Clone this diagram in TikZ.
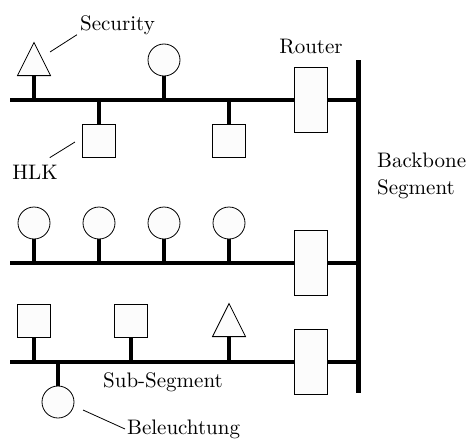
\documentclass[tikz,border=0pt]{standalone}
\usepackage{fontspec}
\setmainfont{lmroman10-regular.otf}
\usetikzlibrary{shapes.geometric}
\begin{document}
\begin{tikzpicture}[x=1pt,y=-1pt,
    bus/.style={line width=3.7pt},
    backbone/.style={line width=5pt},
    dev/.style={draw,fill=gray!2,line width=0.8pt,inner sep=0pt},
    sq/.style={dev,rectangle,minimum size=33pt},
    ci/.style={dev,circle,minimum size=32pt},
    tri/.style={dev,isosceles triangle,isosceles triangle stretches,shape border rotate=90,minimum width=33pt,minimum height=33pt,anchor=lower side},
    router/.style={dev,rectangle,minimum width=33pt,minimum height=65pt},
    lbl/.style={inner sep=0pt,font=\fontsize{21}{27}\selectfont},
    lead/.style={line width=0.8pt}]
    \useasboundingbox (0,0) rectangle (469,439);
    % backbone and the three sub-segments
    \coordinate (bbtop) at (358,60);
    \coordinate (bbbot) at (358,393);
    \draw[backbone] (bbtop) -- (bbbot);
    \foreach \n/\y in {1/100,2/263,3/362} {
        \coordinate (s\n) at (10,\y);
        \node[router] (r\n) at (310.5,\y) {};
        \draw[bus] (s\n) -- (r\n);
        \draw[bus] (r\n) -- (r\n -| bbtop);
    }
    % segment 1
    \node[tri] (sec) at (34,76) {};
    \draw[bus] (sec.lower side) -- (sec.lower side |- s1);
    \node[ci] (c1) at (164,60) {};
    \draw[bus] (c1.south) -- (c1 |- s1);
    \foreach \x [count=\i] in {99,229} {
        \node[sq] (h\i) at (\x,141) {};
        \draw[bus] (h\i.north) -- (h\i |- s1);
    }
    % segment 2
    \foreach \x [count=\i] in {34,99,164,229} {
        \node[ci] (l\i) at (\x,223) {};
        \draw[bus] (l\i.south) -- (l\i |- s2);
    }
    % segment 3
    \foreach \x [count=\i] in {34,131} {
        \node[sq] (q\i) at (\x,320.5) {};
        \draw[bus] (q\i.south) -- (q\i |- s3);
    }
    \node[tri] (t3) at (229,337) {};
    \draw[bus] (t3.lower side) -- (t3.lower side |- s3);
    \node[ci] (bl) at (58,402) {};
    \draw[bus] (bl.north) -- (bl |- s3);
    % labels
    \node[lbl] (seclbl) at (117.5,25) {Security};
    \coordinate (secend) at (50,52);
    \draw[lead] ([xshift=-3pt]seclbl.south west) -- (secend);
    \node[lbl] (hlk) at (35,172) {HLK};
    \coordinate (hlkend) at (75,142);
    \draw[lead] (hlkend) -- ([xshift=-8pt,yshift=7pt]hlk.north east);
    \node[lbl] (rlbl) at (311,47) {Router};
    \node[lbl,anchor=west,align=left] (bbl) at (377,176) {Backbone\\Segment};
    \node[lbl] (sub) at (163,382) {Sub-Segment};
    \node[lbl,anchor=west] (bel) at (127,429) {Beleuchtung};
    \coordinate (belend) at (83,410);
    \draw[lead] (belend) -- ([xshift=-2pt]bel.west);
\end{tikzpicture}
\end{document}
